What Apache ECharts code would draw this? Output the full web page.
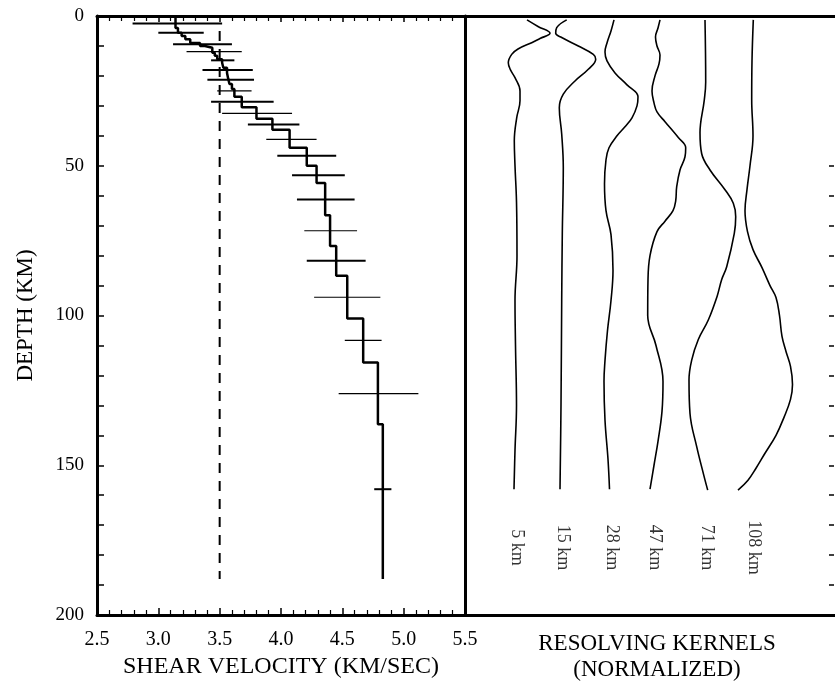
<!DOCTYPE html>
<html><head><meta charset="utf-8">
<script src="https://cdn.jsdelivr.net/npm/echarts@6/dist/echarts.min.js"></script>
<style>html,body{margin:0;padding:0;background:#fff}#c{width:835px;height:686px}</style>
</head><body><div id="c"></div>
<script>
// ---- Shear velocity profile (step model) ----
const layerTop = [0,4,5.6,6.7,7.8,9,10,10.6,12.3,13.3,14.4,15.6,17.3,19,21,22.7,24.4,27,30.5,34.3,38,44,50,55.8,66.5,76.8,86.7,101,115.7,136.3];
const layerVel = [3.14,3.16,3.19,3.22,3.26,3.34,3.38,3.44,3.46,3.48,3.52,3.53,3.56,3.57,3.58,3.60,3.62,3.68,3.80,3.93,4.07,4.21,4.29,4.36,4.40,4.45,4.54,4.67,4.79,4.83];
const profileBottom = 188;
// starting model (dashed)
const refVel = 3.5;
const refDepth = [5, 188];
// error bars: [depth, low velocity, high velocity]
const barsBold = [[2.5,2.79,3.52],[5.6,3.00,3.37],[9.4,3.12,3.60],[14.8,3.43,3.62],[18.0,3.36,3.77],[21.3,3.40,3.78],[28.6,3.43,3.94],[36.2,3.73,4.15],[46.7,3.97,4.45],[53.2,4.09,4.52],[61.3,4.13,4.60],[81.7,4.21,4.69],[158,4.76,4.90]];
const barsFaint = [[11.9,3.23,3.68],[25.0,3.48,3.76],[32.5,3.52,4.09],[41.2,3.88,4.29],[71.7,4.19,4.62],[93.9,4.27,4.81],[108.3,4.52,4.82],[126.1,4.47,5.12]];
// axis ticks
const velTicks = [2.5, 5.5, 0.5];
const depthTicks = [0, 200, 50];

// ---- Resolving kernels: depth samples and normalized deflection ----
const kernelNames = ['5 km','15 km','28 km','47 km','71 km','108 km'];
const k5Depth  = [1.3,3.5,5.8,7.5,8.9,11,12.8,15.6,18,20.6,25,28.3,34,41.7,50,62,80,95,110,130,145,158];
const k5Amp    = [1.2,2.3,3.5,2.5,1.67,0.3,-0.33,-0.67,-0.45,0,0.5,0.5,0.17,-0.07,0,0.15,0.2,0,0.05,0.15,0,-0.1];
const k15Depth = [1.3,3.9,5.8,7.2,10,12.8,14.4,17.8,21.7,26.1,30.6,39.4,50.6,72.7,95,130,158];
const k15Amp   = [0.57,-0.43,-0.53,0.07,1.73,3.23,3.47,2.73,1.4,0.23,-0.17,0.07,0.23,0.13,0.07,0,-0.1];
const k28Depth = [1.3,5,9,12,15,19,23,27,30,34,37,40,44,48,56,65,73,85,95,105,115,122,135,148,158];
const k28Amp   = [0.4,0.1,-0.3,-0.5,-0.3,0.5,1.7,2.8,2.7,2.2,1.5,0.7,-0.1,-0.4,-0.55,-0.4,0.1,0.3,0.1,-0.25,-0.5,-0.6,-0.5,-0.2,-0.05];
const k47Depth = [1.3,4,7,10,13,16,20,25,29,32,35.3,40.6,44,47,51.4,57,61.7,65,68.5,72,80,88,100,110,122,132,142,150,158];
const k47Amp   = [0.7,0.5,0.25,0.4,0.7,0.6,0.2,-0.1,0.1,0.4,1.2,2.53,3.27,3.2,2.7,2.37,2.27,2.0,1.2,0.4,-0.3,-0.5,-0.53,0.3,1.0,0.9,0.5,0.1,-0.3];
const k71Depth = [1.3,22,28,39,46,51.4,58,62.5,67,72.6,83.7,88,93.7,101.5,108,114.9,121.5,132.7,143.8,152.7,158.3];
const k71Amp   = [0,0.07,-0.07,-0.5,-0.33,0.5,2.0,2.83,3.07,2.93,2.17,1.67,1.2,0.33,-0.67,-1.33,-1.6,-1.5,-0.83,-0.17,0.27];
const k108Depth= [1.3,15,28,40,50,58,65,72,78,84,90,94,100,107,112,117,123,128,134,140,146,151,155,158.3];
const k108Amp  = [0.13,0,-0.03,0.1,-0.2,-0.5,-0.7,-0.45,0.1,1.0,1.8,2.4,2.75,3.0,3.4,3.85,4.05,3.85,3.2,2.4,1.3,0.4,-0.4,-1.4];
const rightTicks = [50, 190, 10];

// ---- layout (not data) ----
const kernelBase = [5.0, 9.6, 14.5, 18.8, 24.0, 28.7];
const labelDepth = 177.5;
const FONT = 'Liberation Serif';

const kernelDepths = [k5Depth,k15Depth,k28Depth,k47Depth,k71Depth,k108Depth];
const kernelAmps = [k5Amp,k15Amp,k28Amp,k47Amp,k71Amp,k108Amp];

const stairs = [];
layerTop.forEach((t,i)=>{
  const b = i < layerTop.length-1 ? layerTop[i+1] : profileBottom;
  stairs.push([layerVel[i], t]);
  stairs.push([layerVel[i], b]);
});

function barSeries(data, width){
  return {
    type:'custom', xAxisIndex:0, yAxisIndex:0, silent:true,
    encode:{x:[1,2], y:0},
    data: data,
    renderItem:(params, api)=>{
      const p1 = api.coord([api.value(1), api.value(0)]);
      const p2 = api.coord([api.value(2), api.value(0)]);
      return {type:'line', shape:{x1:p1[0],y1:p1[1],x2:p2[0],y2:p2[1]}, style:{stroke:'#000', lineWidth:width}};
    }
  };
}

const kernelSeries = kernelDepths.map((ds,k)=>({
  type:'line', xAxisIndex:2, yAxisIndex:2, symbol:'none', smooth:0.4, silent:true,
  lineStyle:{color:'#000', width:1.6},
  data: ds.map((d,i)=>[kernelBase[k] + kernelAmps[k][i], d])
}));

const chart = echarts.init(document.getElementById('c'), null, {renderer:'canvas'});
chart.setOption({
  animation:false,
  backgroundColor:'#fff',
  textStyle:{fontFamily:FONT, color:'#000'},
  grid:[
    {left:97, top:16, width:368, height:599, outerBoundsMode:'none', containLabel:false},
    {left:465, top:16, right:0, height:599, outerBoundsMode:'none', containLabel:false},
    {left:790, top:166, right:1, height:419, outerBoundsMode:'none', containLabel:false}
  ],
  xAxis:[
    {gridIndex:0, type:'value', position:'bottom', min:velTicks[0], max:velTicks[1], interval:velTicks[2],
     axisLine:{show:true, onZero:false, lineStyle:{color:'#000', width:3}},
     axisTick:{show:true, inside:true, length:7, lineStyle:{color:'#000', width:1.5}},
     minorTick:{show:true, splitNumber:5, length:5, lineStyle:{color:'#000', width:1.2}},
     splitLine:{show:false},
     axisLabel:{color:'#000', fontFamily:FONT, fontSize:20, margin:15, formatter:v=>v.toFixed(1)},
     name:'SHEAR VELOCITY (KM/SEC)', nameLocation:'middle', nameGap:36,
     nameTextStyle:{color:'#000', fontFamily:FONT, fontSize:24}},
    {gridIndex:0, type:'value', position:'top', min:velTicks[0], max:velTicks[1], interval:velTicks[2],
     axisLine:{show:true, onZero:false, lineStyle:{color:'#000', width:3}},
     axisTick:{show:true, inside:true, length:6, lineStyle:{color:'#000', width:1.5}},
     minorTick:{show:true, splitNumber:5, length:5, lineStyle:{color:'#000', width:1.2}},
     splitLine:{show:false}, axisLabel:{show:false}},
    {gridIndex:1, type:'value', position:'bottom', min:0, max:37,
     axisLine:{show:true, onZero:false, lineStyle:{color:'#000', width:3}},
     axisTick:{show:false}, splitLine:{show:false}, axisLabel:{show:false},
     name:'RESOLVING KERNELS\n(NORMALIZED)', nameLocation:'middle', nameGap:16,
     nameTextStyle:{color:'#000', fontFamily:FONT, fontSize:23, lineHeight:26, padding:[0,0,0,14]}},
    {gridIndex:1, type:'value', position:'top', min:0, max:37,
     axisLine:{show:true, onZero:false, lineStyle:{color:'#000', width:3}},
     axisTick:{show:false}, splitLine:{show:false}, axisLabel:{show:false}},
    {gridIndex:2, type:'value', show:false, min:0, max:1}
  ],
  yAxis:[
    {gridIndex:0, type:'value', position:'left', inverse:true, min:depthTicks[0], max:depthTicks[1], interval:depthTicks[2],
     axisLine:{show:true, onZero:false, lineStyle:{color:'#000', width:3}},
     axisTick:{show:true, inside:true, length:7, lineStyle:{color:'#000', width:1.5}},
     minorTick:{show:true, splitNumber:5, length:7, lineStyle:{color:'#000', width:1.5}},
     splitLine:{show:false},
     axisLabel:{color:'#000', fontFamily:FONT, fontSize:19, margin:13},
     name:'DEPTH (KM)', nameLocation:'middle', nameGap:60, nameRotate:90,
     nameTextStyle:{color:'#000', fontFamily:FONT, fontSize:23}},
    {gridIndex:0, type:'value', position:'right', inverse:true, min:depthTicks[0], max:depthTicks[1],
     axisLine:{show:true, onZero:false, lineStyle:{color:'#000', width:3}},
     axisTick:{show:false}, splitLine:{show:false}, axisLabel:{show:false}},
    {gridIndex:1, type:'value', show:false, inverse:true, min:depthTicks[0], max:depthTicks[1]},
    {gridIndex:2, type:'value', position:'right', inverse:true, min:rightTicks[0], max:rightTicks[1], interval:rightTicks[2],
     axisLine:{show:false, onZero:false}, axisTick:{show:true, inside:true, length:5, lineStyle:{color:'#000', width:1.5}},
     splitLine:{show:false}, axisLabel:{show:false}}
  ],
  series:[
    {type:'line', xAxisIndex:0, yAxisIndex:0, symbol:'none', silent:true,
     lineStyle:{color:'#000', width:2, type:[10,8]},
     data: refDepth.map(d=>[refVel, d])},
    barSeries(barsBold, 2),
    barSeries(barsFaint, 1.2),
    {type:'line', xAxisIndex:0, yAxisIndex:0, symbol:'none', silent:true,
     lineStyle:{color:'#000', width:2.5}, data: stairs},
    ...kernelSeries,
    {type:'scatter', xAxisIndex:2, yAxisIndex:2, symbolSize:0, silent:true,
     data: kernelNames.map((n,k)=>({name:n, value:[kernelBase[k]+0.2, labelDepth]})),
     label:{show:true, position:'inside', formatter:p=>p.name, rotate:-90,
            color:'#000', fontFamily:FONT, fontSize:18}}
  ]
});
</script></body></html>
